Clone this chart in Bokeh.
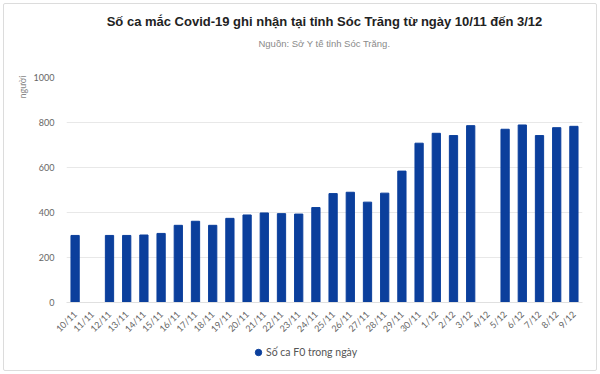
import math
from bokeh.plotting import figure
from bokeh.layouts import column
from bokeh.models import (ColumnDataSource, Title, Legend, LegendItem, FactorRange,
                          Range1d, FixedTicker)
from bokeh.embed import file_html
from bokeh.resources import INLINE

nan = float("nan")

dates = ["10/11", "11/11", "12/11", "13/11", "14/11", "15/11", "16/11", "17/11", "18/11",
         "19/11", "20/11", "21/11", "22/11", "23/11", "24/11", "25/11", "26/11", "27/11",
         "28/11", "29/11", "30/11", "1/12", "2/12", "3/12", "4/12", "5/12", "6/12", "7/12",
         "8/12", "9/12"]
cases = [298, nan, 298, 298, 300, 307, 343, 361, 343,
         374, 389, 398, 395, 393, 422, 484, 490, 446,
         486, 584, 708, 752, 742, 786, nan, 770, 789, 742,
         777, 783]
y_ticks = [0, 200, 400, 600, 800, 1000]

title_text = "Số ca mắc Covid-19 ghi nhận tại tỉnh Sóc Trăng từ ngày 10/11 đến 3/12"
subtitle_text = "Nguồn: Sở Y tế tỉnh Sóc Trăng."
series_name = "Số ca F0 trong ngày"
y_label = "người"

BLUE = "#0b3f9c"

source = ColumnDataSource(data=dict(date=dates, cases=cases))
x_range = FactorRange(*dates, range_padding=0)
y_range = Range1d(0, 1000)

p = figure(width=600, height=340, output_backend="svg", toolbar_location=None,
           x_range=x_range, y_range=y_range,
           title=None, min_border_left=66, min_border_right=18, min_border_top=77,
           min_border_bottom=37)
p.border_fill_color = None
p.background_fill_color = None

bars = p.vbar(x="date", top="cases", width=0.48, source=source, color=BLUE)

# spacer between frame and subtitle
spacer = Title(text=" ", text_font_size="1px", standoff=26, offset=0)
sub = Title(text=subtitle_text, align="center", text_font="Liberation Sans",
            text_font_size="9.5px", text_font_style="normal", text_color="#8a8a8a",
            offset=0, standoff=0)
ttl = Title(text=title_text, align="center", text_font="Liberation Sans",
            text_font_size="13px", text_font_style="bold", text_color="#222222",
            standoff=14)
p.add_layout(spacer, "above")
p.add_layout(sub, "above")
p.add_layout(ttl, "above")

p.yaxis.ticker = FixedTicker(ticks=y_ticks)
p.yaxis.axis_line_color = None
p.yaxis.major_tick_line_color = None
p.yaxis.minor_tick_line_color = None
p.yaxis.major_label_text_font = "Lato"
p.yaxis.major_label_text_font_size = "9px"
p.yaxis.major_label_text_color = "#666666"
p.yaxis.major_label_standoff = 6

ylab = Title(text=y_label, align="right", text_font="Lato", text_font_size="9px",
             text_font_style="normal", text_color="#888888", standoff=6, offset=-2)
p.add_layout(ylab, "left")

p.xaxis.axis_line_color = "#e0e0e0"
p.xaxis.major_tick_line_color = None
p.xaxis.minor_tick_line_color = None
p.xaxis.major_label_orientation = math.pi / 4
p.xaxis.major_label_text_font = "Lato"
p.xaxis.major_label_text_font_size = "9px"
p.xaxis.major_label_text_color = "#666666"
p.xaxis.major_label_standoff = 4

p.xgrid.grid_line_color = None
p.ygrid.grid_line_color = "#e8e8e8"
p.outline_line_color = None

# legend strip below the chart
pl = figure(width=600, height=34, output_backend="svg", toolbar_location=None,
            x_range=x_range, y_range=y_range, min_border=0)
pl.border_fill_color = None
pl.background_fill_color = None
dots = pl.scatter(x="date", y="cases", size=0, marker="circle", color=BLUE, source=source)
pl.axis.visible = False
pl.grid.visible = False
pl.outline_line_color = None

legend = Legend(items=[LegendItem(label=series_name, renderers=[dots])],
                location=(184, 12), orientation="horizontal",
                border_line_color=None, background_fill_alpha=0,
                label_text_font="Lato", label_text_font_size="10.5px",
                label_text_color="#555555", glyph_width=16, glyph_height=16,
                label_height=20, label_standoff=0, padding=0, margin=0)
pl.add_layout(legend, "center")

layout = column(p, pl, spacing=0,
                styles={"outline": "1px solid #dcdcdc", "outline-offset": "-4px",
                        "border-radius": "5px"})

open("out.html", "w").write(file_html(layout, INLINE))
